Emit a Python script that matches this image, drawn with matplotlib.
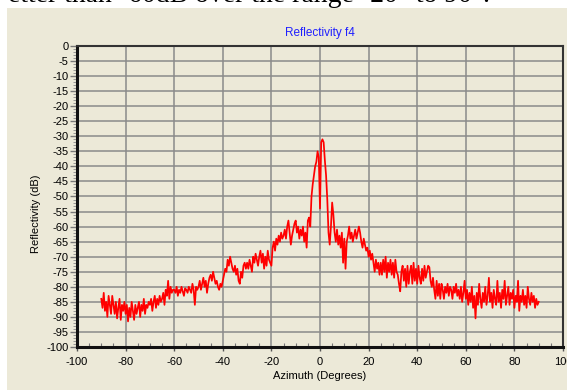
import numpy as np
import matplotlib
matplotlib.use("Agg")
import matplotlib.pyplot as plt
from matplotlib.patches import Rectangle
from matplotlib.ticker import MultipleLocator

plt.rcParams['font.family'] = ['Liberation Sans', 'DejaVu Sans']
plt.rcParams['axes.unicode_minus'] = False

# Azimuth sampling (degrees): -90 .. 90 in 0.5 degree steps
az_start, az_stop, az_step = -90.0, 90.0, 0.5

# Reflectivity values (dB), 10 values per 5 degrees
reflectivity = [
    -84, -87, -82, -88, -85, -90, -83, -86, -89, -83,        # -90
    -86, -89, -85, -90.5, -87, -84, -91, -86, -88, -85,      # -85
    -89, -86, -91.5, -87, -90, -85, -88, -91, -86, -89,      # -80
    -87, -85, -90, -86, -88, -84, -89, -86, -87, -85,        # -75
    -86, -84, -88, -85, -83, -87, -84, -86, -83, -85,        # -70
    -84, -82, -86, -81, -83, -78, -84, -80, -82, -81,        # -65
    -81, -82, -80, -83, -81, -82, -80, -81.5, -83, -80.5,    # -60
    -81, -82, -80, -81, -82, -79, -81, -86, -80, -81,        # -55
    -80, -78, -81, -79, -77, -80, -78, -82, -79, -77,        # -50
    -76, -78, -75, -77, -79, -78, -80, -81, -79, -80,        # -45
    -78, -76, -74, -75, -71, -73, -70, -72, -74, -75,        # -40
    -73, -76, -74, -78, -79, -75, -77, -73, -72, -74,        # -35
    -72, -74, -71, -73, -75, -70, -72, -69, -71, -73,        # -30
    -70, -68, -72, -69, -74, -70, -73, -68, -71, -72,        # -25
    -73, -67, -65, -68, -64, -66, -63, -65, -62, -64,        # -20
    -63, -61, -64, -60, -58, -62, -66, -63, -61, -59,        # -15
    -58, -62, -60, -64, -61, -63, -60, -65, -62, -67,        # -10
    -58, -57, -60, -50, -46, -43, -40, -38.5, -35, -37,      # -5
    -54, -32, -31, -32, -38, -43, -51, -62, -66, -60,        # 0
    -52, -56, -62, -65, -61, -66, -63, -67, -62, -72,        # 5
    -64, -74, -65, -63, -60, -64, -62, -65, -63, -61,        # 10
    -64, -62, -60, -62, -65, -67, -64, -66, -68, -67,        # 15
    -70, -68, -71, -69, -72, -75, -71, -74, -72, -76,        # 20
    -72, -76, -71, -75, -70, -77, -72, -75, -71, -76,        # 25
    -72, -77, -71, -75, -76, -79, -81.5, -75, -73, -78,      # 30
    -74, -80, -73, -79, -75, -73, -79, -72, -78, -74,        # 35
    -79, -73, -77, -79, -74, -78, -73, -77, -75, -73,        # 40
    -73.5, -78, -80, -77, -81, -84, -78, -83, -79, -84,      # 45
    -79, -81, -84, -80, -82, -79, -83, -80, -81, -84,        # 50
    -80, -82, -79, -83, -81, -84, -80, -85, -82, -78,        # 55
    -84, -81, -86, -82, -85, -80, -87, -83, -90.5, -82,      # 60
    -86, -79, -84, -87, -82, -85, -80, -86, -83, -77,        # 65
    -85, -82, -87, -81, -84, -86, -78, -85, -82, -87,        # 70
    -81, -84, -78, -86, -83, -80, -86, -82, -84, -81,        # 75
    -87, -83, -85, -78, -88, -83, -85, -81, -86, -83,        # 80
    -87, -80, -84, -86, -82, -85, -83, -87, -84, -86,        # 85
    -85,                                                     # 90
]
azimuth = np.arange(az_start, az_stop + az_step / 2, az_step)

title_text = "Reflectivity f4"
xlabel_text = "Azimuth (Degrees)"
ylabel_text = "Reflectivity (dB)"
top_text = "etter than -60dB over the range -20\u00b0 to 90\u00b0."

W, H = 567, 390
fig = plt.figure(figsize=(W / 100, H / 100), dpi=100, facecolor='white')
beige = '#ECE9D8'
fig.patches.append(Rectangle((7 / W, 0), 1, 1 - 8 / H, transform=fig.transFigure,
                             facecolor=beige, edgecolor='none', zorder=-5))

fig.text(8 / W, 1 - 2 / H, top_text, family=['Liberation Serif', 'DejaVu Serif'],
         fontsize=20, va='baseline', ha='left', color='black', zorder=-4)

ax = fig.add_axes([77 / W, 1 - 347 / H, (563 - 77) / W, (347 - 46) / H], zorder=2)
ax.set_facecolor(beige)
ax.plot(azimuth, reflectivity, color='#FF0000', lw=1.25, zorder=3)

ax.set_xlim(-100, 100)
ax.set_ylim(-100, 0)
ax.xaxis.set_major_locator(MultipleLocator(20))
ax.xaxis.set_minor_locator(MultipleLocator(5))
ax.yaxis.set_major_locator(MultipleLocator(5))
ax.yaxis.set_minor_locator(MultipleLocator(1))
ax.grid(True, which='major', color='#8A8A8A', lw=1.1, zorder=1)
ax.set_axisbelow(True)

ax.tick_params(axis='x', which='major', direction='out', length=3, width=1,
               color='#555555', labelsize=8, pad=4)
ax.tick_params(axis='x', which='minor', direction='in', length=3, width=0.8,
               color='#777777')
ax.tick_params(axis='y', which='major', direction='out', length=5, width=1,
               color='#777777', labelsize=8, pad=1)
ax.tick_params(axis='y', which='minor', direction='out', length=3, width=0.6,
               color='#888888')

for s in ['left', 'bottom']:
    ax.spines[s].set_linewidth(2.2)
    ax.spines[s].set_color('#111111')
for s in ['top', 'right']:
    ax.spines[s].set_linewidth(1.5)
    ax.spines[s].set_color('#333333')

fig.text(320 / W, 1 - 33 / H, title_text, color='#2020FF', fontsize=8.5,
         ha='center', va='center')
fig.text(320 / W, 1 - 376 / H, xlabel_text, fontsize=8, ha='center', va='center')
fig.text(36 / W, 1 - 214 / H, ylabel_text, fontsize=8, rotation=90,
         ha='center', va='center')

fig.savefig('out.png', dpi=100, facecolor='white')
